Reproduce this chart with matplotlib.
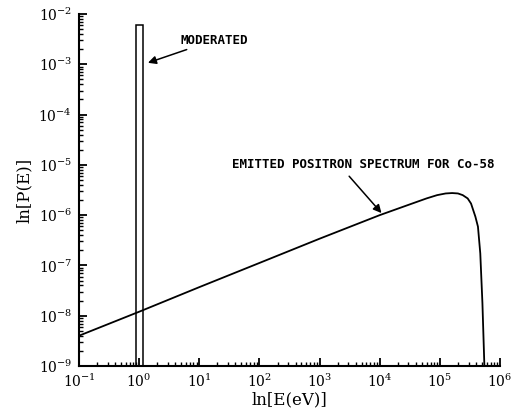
import matplotlib
matplotlib.use("Agg")
import matplotlib.pyplot as plt
import numpy as np

# Emitted positron spectrum
spec_E = [0.1, 1, 10, 100, 1e3, 1e4, 3e4, 6e4, 9e4, 1.25e5, 1.6e5, 2.0e5, 2.4e5, 2.9e5, 3.3e5,
          3.9e5, 4.3e5, 4.7e5, 5.1e5, 5.5e5]
spec_P = [4.0e-9, 1.2e-8, 3.7e-8, 1.12e-7, 3.4e-7, 1.0e-6, 1.6e-6, 2.15e-6, 2.5e-6, 2.7e-6,
          2.75e-6, 2.7e-6, 2.5e-6, 2.15e-6, 1.7e-6, 9.3e-7, 5.9e-7, 1.74e-7, 1.8e-8, 1.0e-9]

# Moderated peak (narrow bar)
mod_E_low = 0.88
mod_E_high = 1.18
mod_peak = 6.0e-3

y_floor = 1e-9
x_ticks = [1e-1, 1e0, 1e1, 1e2, 1e3, 1e4, 1e5, 1e6]
x_tick_labels = [r"$10^{-1}$", r"$10^{0}$", r"$10^{1}$", r"$10^{2}$", r"$10^{3}$",
                 r"$10^{4}$", r"$10^{5}$", r"$10^{6}$"]
y_ticks = [1e-9, 1e-8, 1e-7, 1e-6, 1e-5, 1e-4, 1e-3, 1e-2]
y_tick_labels = [r"$10^{-9}$", r"$10^{-8}$", r"$10^{-7}$", r"$10^{-6}$", r"$10^{-5}$",
                 r"$10^{-4}$", r"$10^{-3}$", r"$10^{-2}$"]

plt.rcParams['font.family'] = ['DejaVu Serif']
plt.rcParams['mathtext.fontset'] = 'dejavuserif'

fig = plt.figure(figsize=(5.12, 4.16), dpi=100)
ax = fig.add_axes([79/512, 1-366/416, (500-79)/512, (366-14)/416])
ax.set_xscale('log')
ax.set_yscale('log')
ax.set_xlim(1e-1, 1e6)
ax.set_ylim(1e-9, 1e-2)

ax.plot(spec_E, spec_P, color='black', lw=1.3)
ax.bar(mod_E_low, mod_peak - y_floor, width=mod_E_high - mod_E_low, bottom=y_floor,
       align='edge', fill=False, edgecolor='black', lw=1.1)

for s in ['top', 'right']:
    ax.spines[s].set_visible(False)
for s in ['left', 'bottom']:
    ax.spines[s].set_linewidth(1.5)

ax.set_xticks(x_ticks)
ax.set_xticklabels(x_tick_labels, fontsize=10)
ax.set_yticks(y_ticks)
ax.set_yticklabels(y_tick_labels, fontsize=10)
ax.tick_params(which='major', direction='in', length=6, width=1.3, pad=5)
ax.tick_params(which='minor', direction='in', length=3, width=1.0)
ax.xaxis.set_minor_locator(matplotlib.ticker.LogLocator(base=10, subs=np.arange(2, 10)))
ax.yaxis.set_minor_locator(matplotlib.ticker.LogLocator(base=10, subs=np.arange(2, 10)))

ax.set_xlabel("ln[E(eV)]", fontsize=12, labelpad=1)
ax.set_ylabel("ln[P(E)]", fontsize=12, labelpad=4)

ax.annotate("MODERATED", xy=(1.4, 1.07e-3), xytext=(4.8, 3.0e-3),
            fontsize=9, fontweight='bold', family='DejaVu Sans Mono', va='center', ha='left',
            arrowprops=dict(arrowstyle='-|>', color='black', lw=1.1, shrinkA=0, shrinkB=0,
                            mutation_scale=12))
ax.annotate("EMITTED POSITRON SPECTRUM FOR Co-58", xy=(1.07e4, 1.1e-6), xytext=(35, 1.0e-5),
            fontsize=9, fontweight='bold', family='DejaVu Sans Mono', va='center', ha='left',
            arrowprops=dict(arrowstyle='-|>', color='black', lw=1.1, shrinkA=2, shrinkB=0,
                            mutation_scale=12, relpos=(0.43, 0.0)))

fig.savefig("out.png", dpi=100)
